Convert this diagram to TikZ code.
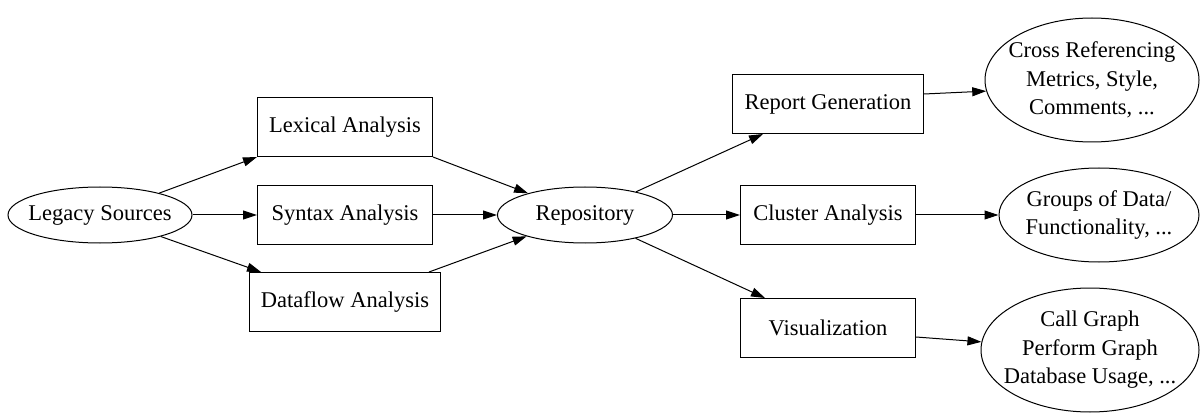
\documentclass[tikz,border=0pt]{standalone}
\usepackage{fontspec}
\setmainfont{Liberation Serif}
\usetikzlibrary{shapes.geometric,arrows.meta}

\begin{document}
\begin{tikzpicture}[x=1pt, y=-1pt, line width=1pt,
    every node/.style = {align=center, font=\fontsize{22.5}{28.5}\selectfont, inner sep=0pt},
    every label/.style = {align=center, font=\fontsize{22.5}{28.5}\selectfont},
    box/.style = {shape=rectangle, draw, minimum height=59pt},
    oval/.style = {shape=ellipse, draw},
    flow/.style = {-{Triangle[length=14pt,width=9pt]}}]
  \useasboundingbox (0,0) rectangle (1202,414);
  % sources and analyses
  \node[oval, minimum width=184pt, minimum height=56pt, label=center:Legacy Sources] (legacy) at (100,215) {};
  \node[box, minimum width=175pt] (lexical) at (345,127) {Lexical Analysis};
  \node[box, minimum width=175pt] (syntax) at (345,215) {Syntax Analysis};
  \node[box, minimum width=191pt] (dataflow) at (345,302) {Dataflow Analysis};
  \node[oval, minimum width=175pt, minimum height=56pt, label=center:Repository] (repo) at (585,215) {};
  % tools
  \node[box, minimum width=191pt] (report) at (828,104) {Report Generation};
  \node[box, minimum width=175pt] (cluster) at (828,215) {Cluster Analysis};
  \node[box, minimum width=175pt] (visual) at (828,328) {Visualization};
  % results
  \node[oval, minimum width=214pt, minimum height=124pt,
    label={center:Cross Referencing\\Metrics, Style,\\Comments, ...}] (xref) at (1092,80) {};
  \node[oval, minimum width=200pt, minimum height=94pt,
    label={center:Groups of Data/\\Functionality, ...}] (groups) at (1099,215) {};
  \node[oval, minimum width=218pt, minimum height=124pt,
    label={center:Call Graph\\Perform Graph\\Database Usage, ...}] (callg) at (1090,350) {};

  \draw[flow] (legacy) -- (lexical.south west);
  \draw[flow] (legacy) -- (syntax);
  \draw[flow] (legacy) -- ([xshift=12pt]dataflow.north west);
  \draw[flow] (lexical.south east) -- (repo);
  \draw[flow] (syntax) -- (repo);
  \draw[flow] ([xshift=-12pt]dataflow.north east) -- (repo);
  \draw[flow] (repo) -- ([xshift=-65pt]report.south);
  \draw[flow] (repo) -- (cluster);
  \draw[flow] (repo) -- ([xshift=-63pt]visual.north);
  \draw[flow] ([yshift=10pt]report.east) -- (xref.186);
  \draw[flow] (cluster) -- (groups);
  \draw[flow] ([yshift=-9pt]visual.east) -- (callg);
\end{tikzpicture}
\end{document}
